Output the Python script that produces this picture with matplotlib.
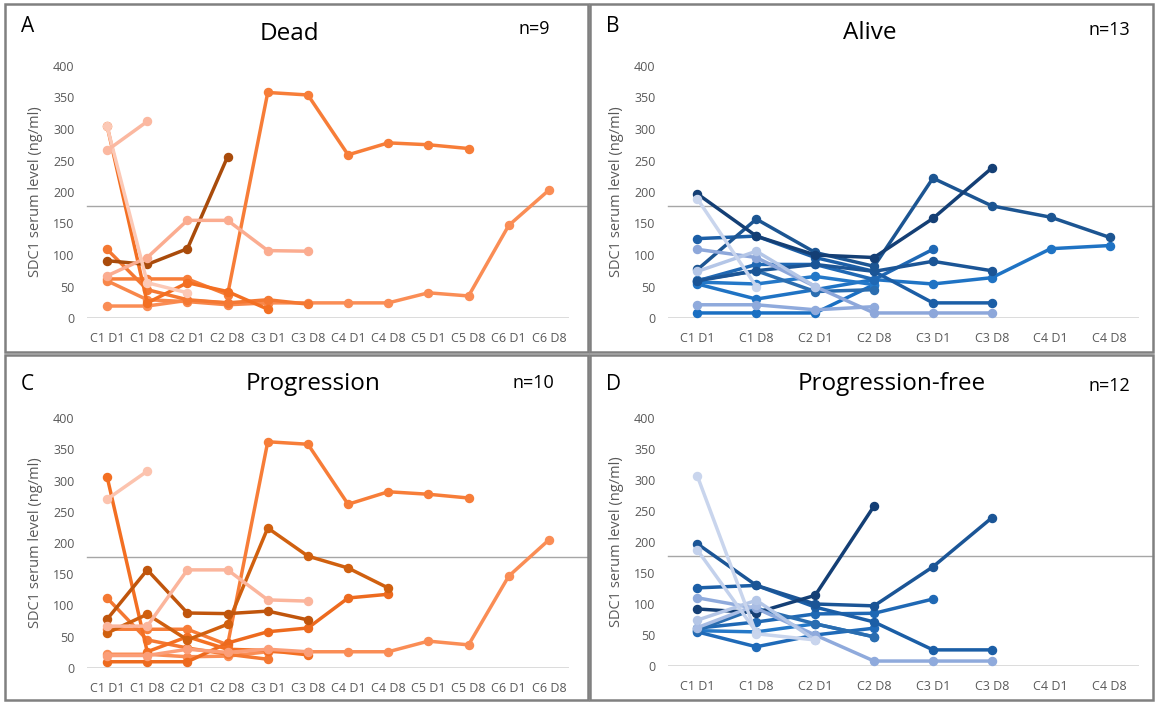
import matplotlib.pyplot as plt
from matplotlib.patches import Rectangle

plt.rcParams['font.family'] = ['Open Sans', 'DejaVu Sans']

visits_long = ['C1 D1', 'C1 D8', 'C2 D1', 'C2 D8', 'C3 D1', 'C3 D8',
               'C4 D1', 'C4 D8', 'C5 D1', 'C5 D8', 'C6 D1', 'C6 D8']
visits_short = visits_long[:8]

# SDC1 serum level (ng/ml) per patient, starting at C1 D1
dead = [
    [19, 19, 28, 24, 24, 24, 24, 24, 40, 35, 147, 203],
    [62, 62, 62, 37, 358, 354, 259, 278, 275, 269],
    [59, 29, 26, 21, 24],
    [109, 45, 29, 24, 29, 22],
    [305, 24, 56, 42, 14],
    [91, 85, 110, 256],
    [67, 96, 155, 155, 107, 106],
    [304, 56, 40],
    [266, 312],
]
dead_colors = ['#fa8d55', '#f77d38', '#f8874a', '#f47832', '#f36f22',
               '#a94b0b', '#fbac90', '#fcc9b6', '#fbb8a0']

alive = [
    [54, 30, 45, 61, 54, 64, 110, 115],
    [8, 8, 8, 53],
    [57, 54, 66, 53],
    [59, 85, 85, 61, 109],
    [60, 75, 42, 45],
    [126, 130, 96, 74, 24, 24],
    [59, 75, 85, 74, 90, 75],
    [77, 157, 104, 82, 222, 178, 160, 128],
    [197, 130, 100, 96, 158, 238],
    [21, 21, 13, 18],
    [109, 96, 50, 8, 8, 8],
    [74, 106, 50],
    [189, 50],
]
alive_colors = ['#1f73c4', '#1a6fc2', '#2478c8', '#1f68b4', '#2a6db0',
                '#1b5ea6', '#1b5596', '#1c5592', '#143f75',
                '#8faadc', '#8da7da', '#b4c6e7', '#c9d5ed']

progression = [
    [22, 22, 18, 19, 26, 26, 26, 26, 43, 37, 147, 205],
    [62, 62, 62, 37, 362, 358, 262, 282, 278, 272],
    [10, 10, 10, 40, 58, 64, 112, 118],
    [112, 45, 32, 22, 14],
    [306, 26, 50, 30, 28, 21],
    [20, 20, 30, 25, 30, 26],
    [56, 86, 45, 70, 224, 179, 160, 128],
    [78, 157, 88, 87, 91, 77],
    [67, 67, 157, 157, 109, 107],
    [270, 315],
]
progression_colors = ['#fa8d55', '#f77d38', '#ed6a1e', '#f47832', '#f36f22',
                      '#fb9e78', '#d0600f', '#c0550c', '#fbb59c', '#fcc3ae']

progression_free = [
    [57, 55, 68, 47],
    [55, 31, 50, 61],
    [61, 71, 84, 85, 108],
    [126, 130, 95, 71, 26, 26],
    [58, 93, 68, 47],
    [197, 130, 100, 97, 160, 239],
    [92, 86, 114, 258],
    [110, 93, 50, 8, 8, 8],
    [62, 98],
    [74, 106, 42],
    [187, 55],
    [306, 52, 42],
]
progression_free_colors = ['#2478c8', '#1f6ab8', '#1f68b4', '#1b5ea6', '#2a6db0',
                           '#1b5596', '#143f75', '#8faadc', '#a9bde4',
                           '#b4c6e7', '#c3d1ec', '#c9d5ed']

threshold = 178

W, H = 1155, 704
fig = plt.figure(figsize=(W / 100, H / 100), dpi=100)


def fx(x):
    return x / W


def fy(y):
    return 1 - y / H


# frame box, axes box, title x/y, letter y, n= x/y (all in pixels)
panels = [
    (dead, dead_colors, visits_long, 'A', 'Dead', 'n=9',
     (5, 4, 588, 352), (87, 66, 569, 318), (289, 34), 27, (518, 29)),
    (alive, alive_colors, visits_short, 'B', 'Alive', 'n=13',
     (590, 4, 1153, 352), (668, 66, 1139, 318), (870, 33), 27, (1088, 30)),
    (progression, progression_colors, visits_long, 'C', 'Progression', 'n=10',
     (5, 355, 588, 700), (87, 418, 569, 668), (313, 384), 384, (512, 383)),
    (progression_free, progression_free_colors, visits_short, 'D', 'Progression-free', 'n=12',
     (590, 355, 1153, 700), (668, 418, 1139, 666), (892, 384), 385, (1088, 386)),
]

for series, colors, labels, letter, title, ntext, frame, box, tpos, ly, npos in panels:
    x0, y0, x1, y1 = frame
    fig.patches.append(Rectangle((fx(x0), fy(y1)), (x1 - x0) / W, (y1 - y0) / H,
                                 transform=fig.transFigure, fill=False,
                                 edgecolor='#808080', linewidth=1.8))
    ax = fig.add_axes([fx(box[0]), fy(box[3]), (box[2] - box[0]) / W, (box[3] - box[1]) / H])
    for vals, c in zip(series, colors):
        ax.plot(range(len(vals)), vals, color=c, lw=2.5, marker='o', ms=5.8)
    ax.set_xlim(-0.5, len(labels) - 0.5)
    ax.set_ylim(0, 400)
    ax.set_xticks(range(len(labels)))
    ax.set_xticklabels(labels)
    ax.set_yticks(range(0, 401, 50))
    for s in ax.spines.values():
        s.set_visible(False)
    ax.axhline(0, color='#d9d9d9', lw=1.3, zorder=0)
    right = (x1 - box[0]) / (box[2] - box[0])
    ax.plot([0, right], [threshold, threshold], color='#a6a6a6', lw=1,
            transform=ax.get_yaxis_transform(), clip_on=False, zorder=0)
    ax.tick_params(length=0, labelsize=9, labelcolor='#595959')
    ax.tick_params(axis='x', pad=10)
    ax.tick_params(axis='y', pad=9)
    ax.set_ylabel('SDC1 serum level (ng/ml)', fontsize=10.5, color='#595959', labelpad=7)
    ax.patch.set_alpha(0)

    fig.text(fx(x0 + 16), fy(ly), letter, fontsize=15, va='center')
    fig.text(fx(tpos[0]), fy(tpos[1]), title, fontsize=17.5, ha='center', va='center')
    fig.text(fx(npos[0]), fy(npos[1]), ntext, fontsize=13, ha='left', va='center')

fig.savefig('out.png', dpi=100, facecolor='white')
